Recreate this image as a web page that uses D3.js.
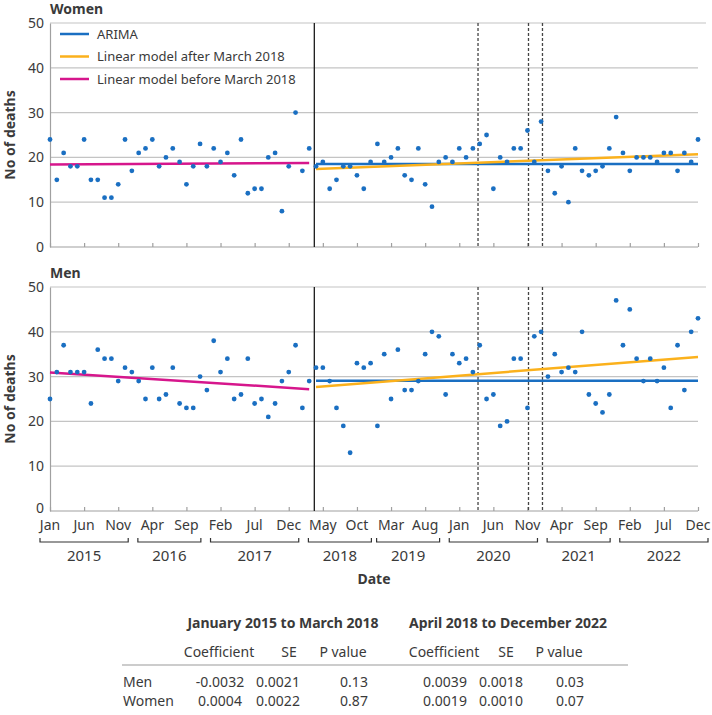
<!DOCTYPE html>
<html>
<head>
<meta charset="utf-8">
<script src="https://cdn.jsdelivr.net/npm/d3@7"></script>
<style>
  body { margin: 0; background: #fff; }
  svg { font-family: "Noto Sans", "Open Sans", sans-serif; }
</style>
</head>
<body>
<div id="grafico"></div>
<script>
/* ---------- dados ---------- */
var azul = '#1a6fc2';
var laranja = '#fbb11c';
var magenta = '#d6168c';
var cinza = '#3a3a3a';

// mortes mensais, jan 2015 .. dez 2022
var mulheres = [
  24,15,21,18,18,24,15,15,11,11,14,24,
  17,21,22,24,18,20,22,19,14,18,23,18,
  22,19,21,16,24,12,13,13,20,21,8,18,
  30,17,22,18,19,13,15,18,18,16,13,19,
  23,19,20,22,16,15,22,14,9,19,20,19,
  22,20,22,23,25,13,20,19,22,22,26,19,
  28,17,12,18,10,22,17,16,17,18,22,29,
  21,17,20,20,20,19,21,21,17,21,19,24
];
var homens = [
  25,31,37,31,31,31,24,36,34,34,29,32,
  31,29,25,32,25,26,32,24,23,23,30,27,
  38,31,34,25,26,34,24,25,21,24,29,31,
  37,23,29,32,32,29,23,19,13,33,32,33,
  19,35,25,36,27,27,29,35,40,39,26,35,
  33,34,31,37,25,26,19,20,34,34,23,39,
  40,30,35,31,32,31,40,26,24,22,26,47,
  37,45,34,29,34,29,32,23,37,27,40,43
];

var meses = ['Jan','Feb','Mar','Apr','May','Jun','Jul','Aug','Sep','Oct','Nov','Dec'];
var anos = [2015, 2016, 2017, 2018, 2019, 2020, 2021, 2022];

// modelos: [inicio, fim] em valores
var arimaMulheres = [18.5, 18.5];
var arimaHomens = [29.1, 29.1];
var antesMulheres = [18.4, 18.75];
var antesHomens = [30.9, 27.2];
var depoisMulheres = [17.4, 20.7];
var depoisHomens = [27.7, 34.4];

var corte = 38.75;                     // abril 2018 (indice de mes)
var lockdowns = [62.75, 70.15, 72.2];  // linhas tracejadas

var legenda = [
  { nome: 'ARIMA', cor: azul },
  { nome: 'Linear model after March 2018', cor: laranja },
  { nome: 'Linear model before March 2018', cor: magenta }
];

var periodos = ['January 2015 to March 2018', 'April 2018 to December 2022'];
var colunas = ['Coefficient', 'SE', 'P value', 'Coefficient', 'SE', 'P value'];
var linhasTabela = [
  { grupo: 'Men', valores: ['-0.0032', '0.0021', '0.13', '0.0039', '0.0018', '0.03'] },
  { grupo: 'Women', valores: ['0.0004', '0.0022', '0.87', '0.0019', '0.0010', '0.07'] }
];

/* ---------- desenho ---------- */
var svg = d3.select('#grafico').append('svg')
  .attr('width', 712).attr('height', 715);

var x = d3.scaleLinear().domain([0, 95]).range([50, 698]);
var ticksX = d3.range(0, 96, 5);

var paineis = [
  { titulo: 'Women', dados: mulheres, topo: 23, base: 247, arima: arimaMulheres, antes: antesMulheres, depois: depoisMulheres, legenda: true },
  { titulo: 'Men', dados: homens, topo: 287, base: 511, arima: arimaHomens, antes: antesHomens, depois: depoisHomens, legenda: false }
];

paineis.forEach(function(p) {
  var y = d3.scaleLinear().domain([0, 50]).range([p.base, p.topo]);
  var g = svg.append('g');

  // grade
  g.selectAll('line.grade')
    .data([10, 20, 30, 40, 50])
    .enter().append('line')
    .attr('x1', 50)
    .attr('x2', function(d) { return d === 50 ? 706 : 698; })
    .attr('y1', function(d) { return y(d); })
    .attr('y2', function(d) { return y(d); })
    .style('stroke', '#c4c4c4').style('stroke-width', 1.2);

  // eixo y
  var eixoY = g.append('g')
    .attr('transform', 'translate(50,0)')
    .call(d3.axisLeft(y).tickValues([0, 10, 20, 30, 40, 50]).tickSize(0).tickPadding(6));
  eixoY.select('.domain').style('stroke', '#a0a0a0').style('stroke-width', 1.2);
  eixoY.selectAll('text').style('font-size', '14px').style('fill', cinza)
    .style('font-family', '"Noto Sans", sans-serif');
  // o zero do painel de baixo sobe um pouco, como no original
  if (!p.legenda) {
    eixoY.selectAll('text').filter(function(d) { return d === 0; }).attr('dy', '0.1em');
  }

  // eixo x
  var eixoX = g.append('g')
    .attr('transform', 'translate(0,' + p.base + ')')
    .call(d3.axisTop(x).tickValues(ticksX).tickSize(4).tickFormat(''));
  eixoX.select('.domain').remove();
  eixoX.selectAll('line').style('stroke', '#a0a0a0').style('stroke-width', 1.2);
  g.append('line')
    .attr('x1', 50).attr('x2', 698).attr('y1', p.base).attr('y2', p.base)
    .style('stroke', '#a0a0a0').style('stroke-width', 1.2);

  // linha de corte e lockdowns
  g.append('line')
    .attr('x1', x(corte)).attr('x2', x(corte))
    .attr('y1', p.topo).attr('y2', p.base)
    .style('stroke', '#1a1a1a').style('stroke-width', 1.3);
  g.selectAll('line.lock')
    .data(lockdowns)
    .enter().append('line')
    .attr('x1', function(d) { return x(d); })
    .attr('x2', function(d) { return x(d); })
    .attr('y1', p.topo).attr('y2', p.base)
    .style('stroke', '#444').style('stroke-width', 1.3)
    .style('stroke-dasharray', '3,2');

  // modelos
  var linha = d3.line().x(function(d) { return x(d[0]); }).y(function(d) { return y(d[1]); });
  g.append('path')
    .attr('d', linha([[0, p.antes[0]], [38, p.antes[1]]]))
    .style('stroke', magenta).style('stroke-width', 2.5).style('fill', 'none');
  g.append('path')
    .attr('d', linha([[39, p.arima[0]], [95, p.arima[1]]]))
    .style('stroke', azul).style('stroke-width', 2.5).style('fill', 'none');
  g.append('path')
    .attr('d', linha([[39, p.depois[0]], [95, p.depois[1]]]))
    .style('stroke', laranja).style('stroke-width', 2.5).style('fill', 'none');

  // pontos
  g.selectAll('circle')
    .data(p.dados)
    .enter().append('circle')
    .attr('cx', function(d, i) { return x(i); })
    .attr('cy', function(d) { return y(d); })
    .attr('r', 2.4)
    .style('fill', azul);

  // titulo
  g.append('text')
    .text(p.titulo)
    .attr('x', 50).attr('y', p.topo - 9)
    .style('font-size', '14px').style('font-weight', 'bold').style('fill', cinza);

  // rotulo y
  g.append('text')
    .text('No of deaths')
    .attr('transform', 'translate(15,' + ((p.topo + p.base) / 2) + ') rotate(-90)')
    .attr('text-anchor', 'middle')
    .style('font-size', '14px').style('font-weight', 'bold').style('fill', cinza);

  // legenda
  if (p.legenda) {
    var leg = g.selectAll('g.leg')
      .data(legenda)
      .enter().append('g')
      .attr('transform', function(d, i) { return 'translate(60,' + (34 + i * 22.5) + ')'; });
    leg.append('line')
      .attr('x1', 0).attr('x2', 29)
      .style('stroke', function(d) { return d.cor; }).style('stroke-width', 2.5);
    leg.append('text')
      .text(function(d) { return d.nome; })
      .attr('x', 37).attr('dy', '0.35em')
      .style('font-size', '13px').style('fill', cinza);
  }
});

// rotulos dos meses
svg.append('g').selectAll('text')
  .data(ticksX)
  .enter().append('text')
  .text(function(d) { return meses[d % 12]; })
  .attr('x', function(d) { return x(d); })
  .attr('y', 530)
  .attr('text-anchor', 'middle')
  .style('font-size', '14px').style('fill', cinza);

// chaves dos anos
anos.forEach(function(ano, k) {
  var doAno = ticksX.filter(function(t) { return Math.floor(t / 12) === k; });
  var a = x(doAno[0]), b = x(doAno[doAno.length - 1]);
  var folga = Math.max(10, (63 - (b - a)) / 2);
  a -= folga; b += folga;
  svg.append('path')
    .attr('d', 'M' + a + ',538V542H' + b + 'V538')
    .style('stroke', '#333').style('stroke-width', 1.2).style('fill', 'none');
  svg.append('text')
    .text(ano)
    .attr('x', (a + b) / 2).attr('y', 561)
    .attr('text-anchor', 'middle')
    .style('font-size', '15px').style('fill', cinza);
});

svg.append('text')
  .text('Date')
  .attr('x', 374).attr('y', 584)
  .attr('text-anchor', 'middle')
  .style('font-size', '14px').style('font-weight', 'bold').style('fill', cinza);

/* ---------- tabela ---------- */
var centrosPeriodo = [283, 508];
var centrosColuna = [219, 289, 343, 444, 506, 559];
var centrosValor = [220, 278, 354, 445, 501, 570];

svg.selectAll('text.periodo')
  .data(periodos)
  .enter().append('text')
  .text(function(d) { return d; })
  .attr('x', function(d, i) { return centrosPeriodo[i]; })
  .attr('y', 628)
  .attr('text-anchor', 'middle')
  .style('font-size', '14px').style('font-weight', 'bold').style('fill', cinza);

svg.selectAll('text.coluna')
  .data(colunas)
  .enter().append('text')
  .text(function(d) { return d; })
  .attr('x', function(d, i) { return centrosColuna[i]; })
  .attr('y', 657)
  .attr('text-anchor', 'middle')
  .style('font-size', '14px').style('fill', cinza);

svg.append('line')
  .attr('x1', 122).attr('x2', 628).attr('y1', 665).attr('y2', 665)
  .style('stroke', '#999').style('stroke-width', 1.2);

linhasTabela.forEach(function(r, k) {
  var yy = 687 + k * 18.5;
  svg.append('text').text(r.grupo)
    .attr('x', 123).attr('y', yy)
    .style('font-size', '14px').style('fill', cinza);
  r.valores.forEach(function(v, j) {
    svg.append('text').text(v)
      .attr('x', centrosValor[j]).attr('y', yy)
      .attr('text-anchor', 'middle')
      .style('font-size', '14px').style('fill', cinza);
  });
});
</script>
</body>
</html>
